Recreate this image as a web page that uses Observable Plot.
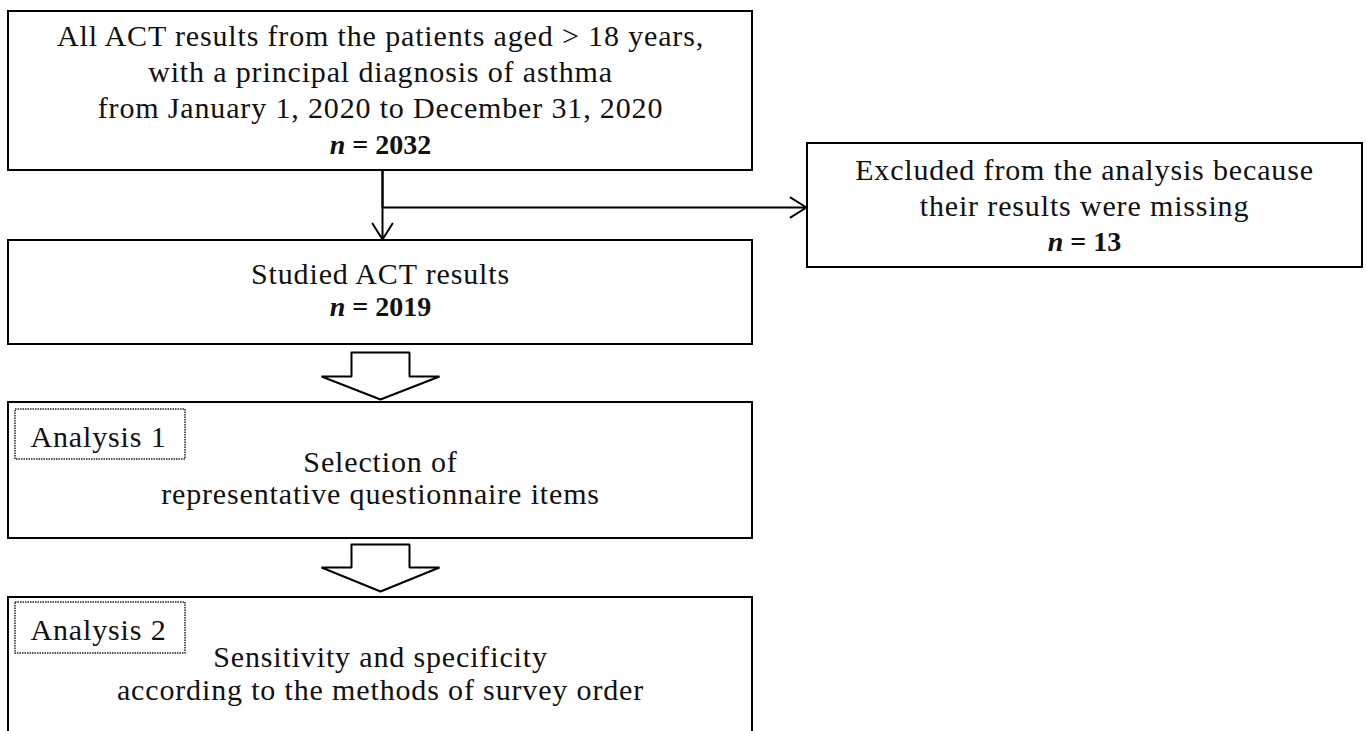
<!DOCTYPE html>
<html>
<head>
<meta charset="utf-8">
<script src="https://cdn.jsdelivr.net/npm/d3@7"></script>
<script src="https://cdn.jsdelivr.net/npm/@observablehq/plot@0.6"></script>
<style>
  html, body { margin: 0; padding: 0; background: #fff; overflow: hidden; }
  #chart svg { display: block; }
  .regular text { letter-spacing: 0.85px; }
</style>
</head>
<body>
<div id="chart"></div>
<script>
// ---- Flowchart content ----
const boxIds = ["all", "studied", "excluded", "analysis1", "analysis2"];
const boxX1 = [8, 8, 807, 8, 8];
const boxX2 = [752, 752, 1362, 752, 752];
const boxY1 = [11, 240, 143, 402, 597];
const boxY2 = [170, 344, 267, 538, 760];

const tagLabels = ["Analysis 1", "Analysis 2"];
const tagX1 = [15, 15];
const tagX2 = [185, 185];
const tagY1 = [409, 602];
const tagY2 = [459, 653];
const tagTextX = [98, 98];
const tagTextY = [446, 639];

const lineTexts = [
  "All ACT results from the patients aged > 18 years,",
  "with a principal diagnosis of asthma",
  "from January 1, 2020 to December 31, 2020",
  "Studied ACT results",
  "Excluded from the analysis because",
  "their results were missing",
  "Selection of",
  "representative questionnaire items",
  "Sensitivity and specificity",
  "according to the methods of survey order"
];
const lineX = [380, 380, 380, 380, 1084, 1084, 380, 380, 380, 380];
const lineY = [45, 81, 117, 283, 179, 215, 471, 503, 666, 699];

const countValues = [2032, 2019, 13];
const countX = [380, 380, 1084];
const countY = [153, 315, 250];

// connectors
const connX1 = [382, 382];
const connY1 = [170, 207];
const connX2 = [382, 806];
const connY2 = [239, 207];
const stemX = [382];
const stemY1 = [170];
const stemY2 = [207];

// block arrows (shaft top, wing level, tip)
const blockTop = [352, 544];
const blockWing = [376, 567];
const blockTip = [399, 591];
const blockCx = [380, 380];
const shaftHalf = 29;
const wingHalf = 59;

// ---- build tables ----
const boxes = boxIds.map((id, i) => ({id, x1: boxX1[i], x2: boxX2[i], y1: boxY1[i], y2: boxY2[i]}));
const tags = tagLabels.map((t, i) => ({t, x1: tagX1[i], x2: tagX2[i], y1: tagY1[i], y2: tagY2[i], tx: tagTextX[i], ty: tagTextY[i]}));
const lines = lineTexts.map((t, i) => ({t, x: lineX[i], y: lineY[i]}));
const counts = countValues.map((v, i) => ({t: "n = " + v, x: countX[i], y: countY[i]}));
const conns = connX1.map((x, i) => ({x1: x, y1: connY1[i], x2: connX2[i], y2: connY2[i]}));
const blockPts = [];
blockTop.forEach((top, i) => {
  const c = blockCx[i];
  const pts = [
    [c - shaftHalf, top], [c + shaftHalf, top], [c + shaftHalf, blockWing[i]],
    [c + wingHalf, blockWing[i]], [c, blockTip[i]], [c - wingHalf, blockWing[i]],
    [c - shaftHalf, blockWing[i]], [c - shaftHalf, top]
  ];
  pts.forEach(([x, y]) => blockPts.push({id: i, x, y}));
});

const font = "'Liberation Serif', 'Times New Roman', serif";
const fs = 30;

const chart = Plot.plot({
  width: 1366,
  height: 731,
  margin: 0,
  x: {domain: [0, 1366], range: [0, 1366], axis: null},
  y: {domain: [0, 731], range: [0, 731], axis: null},
  style: {background: "white", fontFamily: font},
  marks: [
    Plot.rect(boxes, {x1: "x1", x2: "x2", y1: "y1", y2: "y2", fill: "white", stroke: "black", strokeWidth: 2}),
    Plot.rect(tags, {x1: "x1", x2: "x2", y1: "y1", y2: "y2", fill: "none", stroke: "#222", strokeWidth: 1.5, strokeDasharray: "1.5,1"}),
    Plot.ruleX(stemX, {x: d => d, y1: stemY1[0], y2: stemY2[0], stroke: "black", strokeWidth: 2}),
    Plot.arrow(conns, {x1: "x1", y1: "y1", x2: "x2", y2: "y2", stroke: "black", strokeWidth: 2, headLength: 14, headAngle: 64}),
    Plot.line(blockPts, {x: "x", y: "y", z: "id", fill: "white", stroke: "black", strokeWidth: 2, strokeLinejoin: "miter", curve: "linear"}),
    Plot.text(lines, {x: "x", y: "y", text: "t", fontSize: fs, lineAnchor: "bottom", textAnchor: "middle", fill: "#111", fontFamily: font, className: "regular"}),
    Plot.text(tags, {x: "tx", y: "ty", text: "t", fontSize: fs, lineAnchor: "bottom", textAnchor: "middle", fill: "#111", fontFamily: font, className: "regular"}),
    Plot.text(counts, {x: "x", y: "y", text: "t", fontSize: 28, lineAnchor: "bottom", textAnchor: "middle", fill: "#111", fontWeight: "bold", fontFamily: font, className: "counts"})
  ]
});

document.getElementById("chart").appendChild(chart);

// italic "n" in the counts
chart.querySelectorAll("g text").forEach(el => {
  const s = el.textContent;
  if (/^n = \d+$/.test(s)) {
    const rest = s.slice(1);
    el.textContent = "";
    const ns = "http://www.w3.org/2000/svg";
    const t1 = document.createElementNS(ns, "tspan");
    t1.setAttribute("font-style", "italic");
    t1.textContent = "n";
    const t2 = document.createElementNS(ns, "tspan");
    t2.textContent = rest;
    el.appendChild(t1);
    el.appendChild(t2);
  }
});
</script>
</body>
</html>
